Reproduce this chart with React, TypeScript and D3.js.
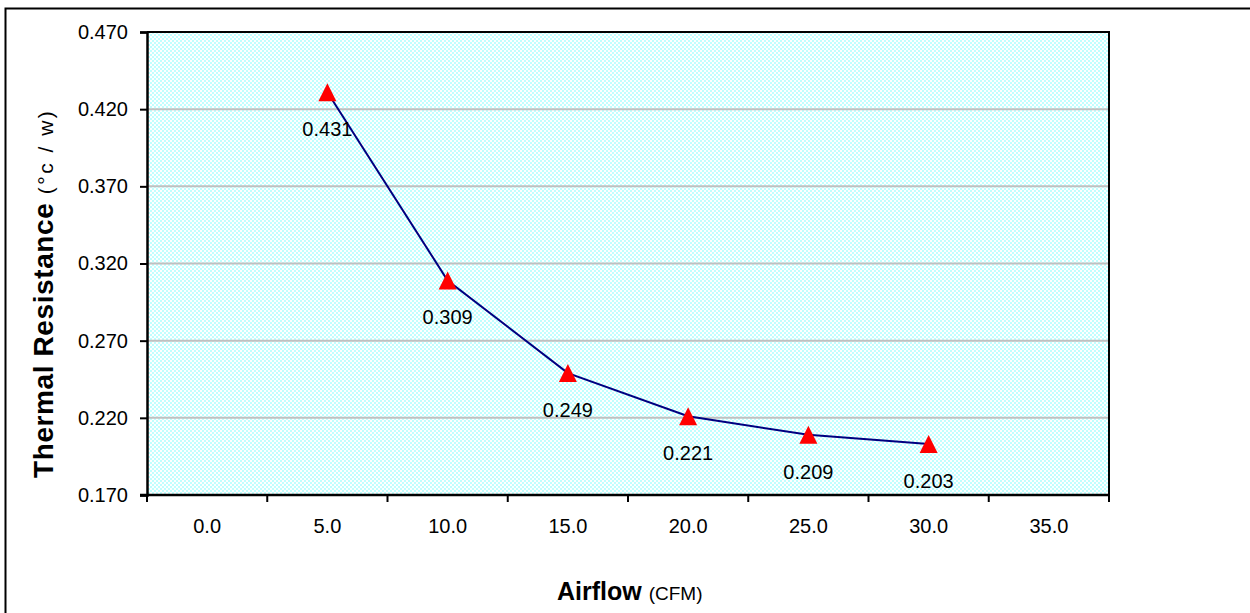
import { useEffect, useRef } from 'react'
import * as d3 from 'd3'

const categories = ['0.0', '5.0', '10.0', '15.0', '20.0', '25.0', '30.0', '35.0']
const airflow = ['5.0', '10.0', '15.0', '20.0', '25.0', '30.0']
const resistance = [0.431, 0.309, 0.249, 0.221, 0.209, 0.203]
const yTicks = [0.17, 0.22, 0.27, 0.32, 0.37, 0.42, 0.47]

// Excel style triangle: as tall as it is wide, centred on its box
const triangle = {
  draw(context: any, size: number) {
    const r = Math.sqrt(size) / 2
    context.moveTo(0, -r)
    context.lineTo(r, r)
    context.lineTo(-r, r)
    context.closePath()
  }
}

export default function App() {
  const svgRef = useRef<SVGSVGElement>(null)

  useEffect(() => {
    if (!svgRef.current) return
    const svg = d3.select(svgRef.current)
    svg.selectAll('*').remove()

    const width = 1250
    const height = 613
    const plot = { left: 147, top: 32, right: 1109, bottom: 495 }
    const font = 'Arial, "Liberation Sans", sans-serif'

    // checker fill like the Excel pattern
    const defs = svg.append('defs')
    const pat = defs.append('pattern')
      .attr('id', 'checker')
      .attr('width', 4)
      .attr('height', 4)
      .attr('patternUnits', 'userSpaceOnUse')
    pat.append('rect').attr('width', 4).attr('height', 4).attr('fill', '#ffffff')
    pat.append('rect').attr('width', 2).attr('height', 2).attr('fill', '#c0ffff')
    pat.append('rect').attr('x', 2).attr('y', 2).attr('width', 2).attr('height', 2).attr('fill', '#c0ffff')

    svg.append('rect').attr('width', width).attr('height', height).attr('fill', '#fff')

    // outer chart frame
    svg.append('rect')
      .attr('x', 5.5).attr('y', 8.5)
      .attr('width', 1260).attr('height', 620)
      .attr('fill', 'none')
      .attr('stroke', '#000')
      .attr('stroke-width', 2)

    const x = d3.scaleBand()
      .domain(categories)
      .range([plot.left, plot.right])
      .paddingInner(0)
      .paddingOuter(0)

    const y = d3.scaleLinear()
      .domain([0.17, 0.47])
      .range([plot.bottom, plot.top])

    svg.append('rect')
      .attr('x', plot.left).attr('y', plot.top)
      .attr('width', plot.right - plot.left)
      .attr('height', plot.bottom - plot.top)
      .attr('fill', 'url(#checker)')

    // gridlines
    svg.append('g')
      .selectAll('line')
      .data(yTicks.slice(1, -1))
      .join('line')
      .attr('x1', plot.left).attr('x2', plot.right)
      .attr('y1', d => y(d)).attr('y2', d => y(d))
      .attr('stroke', '#c0c0c0')
      .attr('stroke-width', 2)

    // plot border (top/right)
    svg.append('path')
      .attr('d', `M${plot.left},${plot.top}H${plot.right}V${plot.bottom}`)
      .attr('fill', 'none')
      .attr('stroke', '#000')
      .attr('stroke-width', 2)

    // y axis
    const yAxis = d3.axisLeft(y)
      .tickValues(yTicks)
      .tickFormat(d3.format('.3f') as any)
      .tickSize(7)
      .tickPadding(12)
    svg.append('g')
      .attr('transform', `translate(${plot.left},0)`)
      .call(yAxis)
      .call(g => g.select('.domain').attr('stroke-width', 2.5))
      .call(g => g.selectAll('.tick line').attr('stroke-width', 2))
      .call(g => g.selectAll('.tick text')
        .attr('fill', '#000')
        .attr('font-family', font)
        .attr('font-size', '20px'))

    // x axis: ticks between categories
    const edges = categories.map(c => x(c) as number).concat([plot.right])
    const xg = svg.append('g')
    xg.append('line')
      .attr('x1', plot.left - 7).attr('x2', plot.right)
      .attr('y1', plot.bottom).attr('y2', plot.bottom)
      .attr('stroke', '#000')
      .attr('stroke-width', 2.5)
    xg.selectAll('line.tick')
      .data(edges)
      .join('line')
      .attr('class', 'tick')
      .attr('x1', d => d).attr('x2', d => d)
      .attr('y1', plot.bottom).attr('y2', plot.bottom + 7)
      .attr('stroke', '#000')
      .attr('stroke-width', 2)
    xg.selectAll('text')
      .data(categories)
      .join('text')
      .attr('x', d => (x(d) as number) + x.bandwidth() / 2)
      .attr('y', 533)
      .attr('text-anchor', 'middle')
      .attr('font-family', font)
      .attr('font-size', '20px')
      .text(d => d)

    const cx = (c: string) => (x(c) as number) + x.bandwidth() / 2

    // series line
    const line = d3.line<number>()
      .x((d, i) => cx(airflow[i]))
      .y(d => y(d))
    svg.append('path')
      .datum(resistance)
      .attr('d', line)
      .attr('fill', 'none')
      .attr('stroke', '#000080')
      .attr('stroke-width', 2)

    // triangle markers
    const tri = d3.symbol().type(triangle as any).size(324)
    svg.append('g')
      .selectAll('path')
      .data(resistance)
      .join('path')
      .attr('d', tri)
      .attr('transform', (d, i) => `translate(${cx(airflow[i])},${y(d)})`)
      .attr('fill', '#ff0000')

    // data labels
    svg.append('g')
      .selectAll('text')
      .data(resistance)
      .join('text')
      .attr('x', (d, i) => cx(airflow[i]))
      .attr('y', d => y(d) + 44)
      .attr('text-anchor', 'middle')
      .attr('font-family', font)
      .attr('font-size', '20px')
      .text(d => d.toFixed(3))

    // y axis title
    const yt = svg.append('text')
      .attr('transform', 'translate(53,478) rotate(-90)')
      .attr('text-anchor', 'start')
      .attr('font-family', font)
    yt.append('tspan')
      .attr('font-weight', 'bold')
      .attr('font-size', '28px')
      .attr('letter-spacing', '0.6px')
      .text('Thermal Resistance ')
    yt.append('tspan')
      .attr('font-size', '21px')
      .attr('letter-spacing', '2.5px')
      .text('(°c / w)')

    // x axis title
    const xt = svg.append('text')
      .attr('x', 557)
      .attr('y', 600)
      .attr('text-anchor', 'start')
      .attr('font-family', font)
    xt.append('tspan').attr('font-weight', 'bold').attr('font-size', '25px').text('Airflow ')
    xt.append('tspan').attr('font-size', '19px').text('(CFM)')
  }, [])

  return (
    <svg
      ref={svgRef}
      width={1250}
      height={613}
      style={{ position: 'absolute', left: 0, top: 0 }}
    />
  )
}
